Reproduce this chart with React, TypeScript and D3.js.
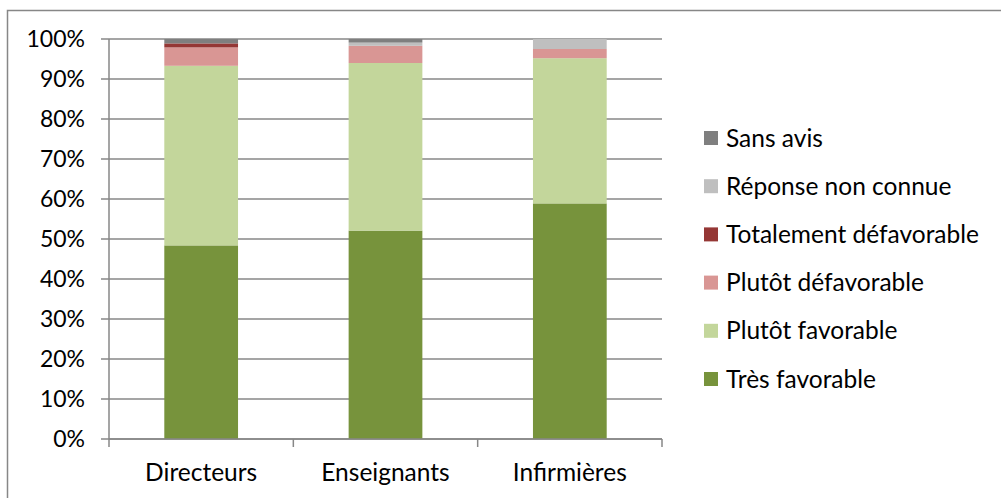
import React from "react";
import * as d3 from "d3";

const categories = ["Directeurs", "Enseignants", "Infirmières"];
const series = [
  "Très favorable",
  "Plutôt favorable",
  "Plutôt défavorable",
  "Totalement défavorable",
  "Réponse non connue",
  "Sans avis",
];
const colors = ["#77933C", "#C3D69B", "#D99694", "#953735", "#BFBFBF", "#7F7F7F"];

// values in % per category, same order as series
const tresFavorable = [48.4, 52.1, 58.9];
const plutotFavorable = [44.9, 41.9, 36.3];
const plutotDefavorable = [4.6, 4.3, 2.3];
const totalementDefavorable = [1.0, 0, 0];
const reponseNonConnue = [0, 0.8, 2.5];
const sansAvis = [1.1, 0.9, 0];

const yTicks = [0, 10, 20, 30, 40, 50, 60, 70, 80, 90, 100];

const W = 1001;
const H = 498;
const FONT = "Lato, 'Open Sans', sans-serif";

export default function App() {
  const margin = { left: 109, right: 339, top: 39, bottom: 59 };
  const plotW = W - margin.left - margin.right;
  const plotH = H - margin.top - margin.bottom;

  const rows = categories.map((c, i) => ({
    cat: c,
    [series[0]]: tresFavorable[i],
    [series[1]]: plutotFavorable[i],
    [series[2]]: plutotDefavorable[i],
    [series[3]]: totalementDefavorable[i],
    [series[4]]: reponseNonConnue[i],
    [series[5]]: sansAvis[i],
  }));
  const stacked = d3.stack<any>().keys(series)(rows);

  const x = d3
    .scaleBand()
    .domain(categories)
    .range([0, plotW])
    .paddingInner(0.6)
    .paddingOuter(0.3);
  const y = d3.scaleLinear().domain([0, 100]).range([plotH, 0]);

  const boundaries = d3.range(categories.length + 1).map((i) => i * (plotW / categories.length));

  const legendItems = series.slice().reverse();
  const legendY = d3.scalePoint().domain(legendItems).range([138, 379]);

  return (
    <svg
      width={W}
      height={H}
      style={{ position: "fixed", left: 0, top: 0, background: "#fff" }}
      fontFamily={FONT}
    >
      <rect x={7.5} y={10.5} width={W + 20} height={H + 20} fill="#fff" stroke="#878787" strokeWidth={1.5} />
      <g transform={`translate(${margin.left},${margin.top})`}>
        {yTicks.map((t) => (
          <g key={t}>
            <line x1={-8} x2={plotW} y1={y(t)} y2={y(t)} stroke="#878787" strokeWidth={1.5} />
            <text x={-24} y={y(t)} dy="0.35em" textAnchor="end" fontSize={23} fill="#000">
              {t}%
            </text>
          </g>
        ))}
        {stacked.map((s, si) => (
          <g key={s.key} fill={colors[si]}>
            {s.map((d: any) => (
              <rect
                key={d.data.cat}
                x={x(d.data.cat)}
                y={y(d[1])}
                width={x.bandwidth()}
                height={Math.max(0, y(d[0]) - y(d[1]))}
              />
            ))}
          </g>
        ))}
        <line x1={0} x2={0} y1={0} y2={plotH} stroke="#878787" strokeWidth={1.5} />
        <line x1={0} x2={plotW} y1={plotH} y2={plotH} stroke="#878787" strokeWidth={1.5} />
        {boundaries.map((b, i) => (
          <line key={i} x1={b} x2={b} y1={plotH} y2={plotH + 8} stroke="#878787" strokeWidth={1.5} />
        ))}
        {categories.map((c) => (
          <text
            key={c}
            x={(x(c) ?? 0) + x.bandwidth() / 2}
            y={plotH + 33}
            dy="0.35em"
            textAnchor="middle"
            fontSize={24.5}
            fill="#000"
          >
            {c}
          </text>
        ))}
      </g>
      <g>
        {legendItems.map((k) => {
          const ci = series.indexOf(k);
          const ly = legendY(k) ?? 0;
          return (
            <g key={k}>
              <rect x={704} y={ly - 7} width={14} height={14} fill={colors[ci]} />
              <text x={726} y={ly} dy="0.35em" fontSize={24.5} fill="#000">
                {k}
              </text>
            </g>
          );
        })}
      </g>
    </svg>
  );
}
